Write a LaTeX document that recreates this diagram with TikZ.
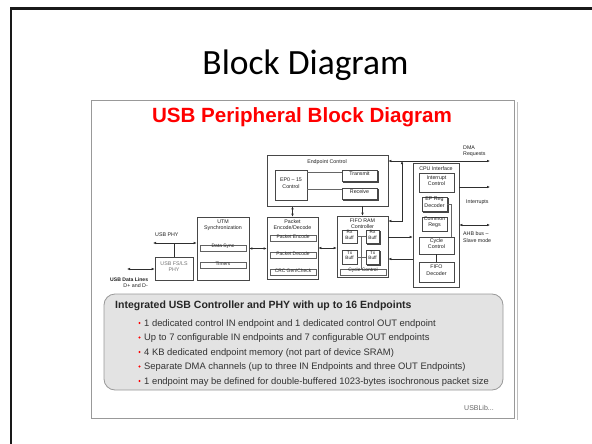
\documentclass[tikz,border=0pt]{standalone}
\usepackage{fontspec}
\setmainfont{Liberation Sans}
\newfontfamily\calfont{Carlito}
\usetikzlibrary{arrows.meta,fit,shadows}
\begin{document}
\begin{tikzpicture}[x=1pt,y=-1pt,
  >={Latex[length=3pt,width=2.6pt]},
  blk/.style={draw=black!72, line width=0.6pt, fill=white, inner sep=0pt},
  sbar/.style={draw=black!62, line width=0.5pt, fill=white, inner sep=0pt, font=\fontsize{4.9}{5}\selectfont, text=black!85},
  stk/.style={copy shadow={shadow xshift=1.4pt, shadow yshift=-1.4pt}},
  lbl/.style={font=\fontsize{5.3}{6.3}\selectfont, text=black!88, inner sep=0pt, align=center},
  con/.style={draw=black!82, line width=0.6pt},
]
\useasboundingbox (0,0) rectangle (592,444);
\fill[white] (0,0) rectangle (592,444);
% slide frame
\draw[line width=2.6pt, black!90] (11,448) -- (11,8.3) -- (596,8.3);
\node[font=\calfont\fontsize{35.5}{40}\selectfont, anchor=base, inner sep=0pt] (title) at (305.5,75) {Block Diagram};

% inner picture
\draw[black!25, line width=0.8pt] (517,102) -- (517,420);
\node[draw=black!40, line width=0.8pt, fill=white, fit={(91,100) (514,418)}, inner sep=0pt] (pic) {};
\node[font=\bfseries\fontsize{20.6}{24}\selectfont, text=red, anchor=base, inner sep=0pt] (ptitle) at (302,122) {USB Peripheral Block Diagram};

% UTM
\node[blk, fit={(197,217) (249,280)}] (utm) {};
\node[lbl, anchor=north] (utmt) at (223,219.5) {UTM\\Synchronization};
\node[sbar, fit={(200,245.5) (246,251)}] (dsync) {Data Sync};
\node[sbar, fit={(200,262.5) (246,268)}] (timers) {Timers};

% PHY
\node[blk, lbl, text=black!55, fit={(155,257) (193,280)}] (phy) {USB FS/LS\\PHY};
\node[lbl, anchor=base west] (phyl) at (155,236) {USB PHY};
\coordinate (phyL) at (153,243);
\draw[con,<->] (phyL) -- (utm.west |- phyL);
\draw[con] (phy.north) -- (phy.north |- phyL);
\coordinate (dl) at (127,269);
\draw[con,<->] (dl) -- (phy.west |- dl);
\node[lbl, font=\bfseries\fontsize{5.1}{6}\selectfont, anchor=base west] (dlt) at (110,281) {USB Data Lines};
\node[lbl, anchor=base east] (dlt2) at (148,287.5) {D+ and D-};

% Packet encode/decode
\node[blk, fit={(267,217) (318,279)}] (pkt) {};
\node[lbl, anchor=north] (pktt) at (292.5,219.5) {Packet\\Encode/Decode};
\node[sbar, fit={(270,235.5) (316,241)}] (penc) {Packet Encode};
\node[sbar, fit={(270,252.5) (316,258)}] (pdec) {Packet Decode};
\node[sbar, fit={(270,269.5) (316,275)}] (crc) {CRC Gen/Check};

% Endpoint control
\node[blk, fit={(267,155) (388,206)}] (epc) {};
\node[lbl, anchor=base] (epct) at (327,163) {Endpoint Control};
\node[blk, lbl, fit={(275,170) (307,200)}] (ep015) {EP0 – 15\\Control};
\node[blk, stk, lbl, fit={(342,170) (377,181)}] (tx) {Transmit};
\node[blk, stk, lbl, fit={(342,188) (377,199)}] (rx) {Receive};
\path ([yshift=-2.5pt]tx.north west) coordinate (txin);
\path ([yshift=-2pt]rx.north west) coordinate (rxin);
\draw[con, black!60] (ep015.east |- txin) -- (txin);
\draw[con, black!60] (ep015.east |- rxin) -- (rxin);

% FIFO RAM controller
\node[blk, fit={(337,216) (388,277)}] (fifo) {};
\node[lbl, anchor=north] (fifot) at (362.5,218.3) {FIFO RAM\\Controller};
\node[blk, lbl, font=\fontsize{4.7}{5.6}\selectfont, fit={(342,230) (357,243)}] (rxl) {Rx\\Buff};
\node[blk, stk, lbl, font=\fontsize{4.7}{5.6}\selectfont, fit={(366,230) (379,243)}] (rxr) {Rx\\Buff};
\node[blk, lbl, font=\fontsize{4.7}{5.6}\selectfont, fit={(342,250) (357,264)}] (txl) {Tx\\Buff};
\node[blk, stk, lbl, font=\fontsize{4.7}{5.6}\selectfont, fit={(366,250) (379,264)}] (txr) {Tx\\Buff};
\node[sbar, fit={(340,269) (386,275)}] (fcyc) {Cycle Control};
\draw[con, black!60] (rxl.east) -- (rxl.east -| rxr.west);
\draw[con, black!60] (txl.east) -- (txl.east -| txr.west);
\coordinate (fmid) at (361.5,236.5);
\draw[con, black!60] (fmid) -- (fmid |- fcyc.north);

% CPU interface
\node[blk, fit={(413,163) (459,287)}] (cpu) {};
\node[lbl, anchor=base] (cput) at (436,170) {CPU Interface};
\node[blk, lbl, fit={(419,173) (454,192)}] (intc) {Interrupt\\Control};
\node[blk, stk, lbl, fit={(422,197) (447,211)}] (epreg) {EP Reg\\Decoder};
\node[blk, lbl, fit={(422,217) (447,231)}] (cregs) {Common\\Regs};
\node[blk, lbl, fit={(419,237) (454,254)}] (ccyc) {Cycle\\Control};
\node[blk, lbl, fit={(419,262) (454,282)}] (fdec) {FIFO\\Decoder};
\draw[con] (ccyc.south) -- (fdec.north);
\coordinate (cyctap) at (451,237);
\draw[con, black!60] (epreg.east) -| (cyctap);

% connectors
\draw[con,<->] (utm.east) -- (utm.east -| pkt.west);
\draw[con,<->] (pkt.east) -- (pkt.east -| fifo.west);
\draw[con,<->] (epc.south -| pkt.north) -- (pkt.north);
\draw[con,->] (epc.south -| fifo.north) -- (fifo.north);
\coordinate (dmaE) at (490,161);
\coordinate (jn) at (402,161);
\draw[con,<->] (epc.east |- dmaE) -- (dmaE);
\draw[con,<->] (fifo.east |- 0,221) -| (jn);
\draw[con,->] (fifo.east |- 0,237) -- (cpu.west |- 0,237);
\draw[con,<-] (fifo.east |- 0,259) -- (cpu.west |- 0,259);
\coordinate (intE) at (490,187);
\coordinate (ahbE) at (490,225);
\draw[con,->] (cpu.east |- intE) -- (intE);
\draw[con,<->] (cpu.east |- ahbE) -- (ahbE);
\node[lbl, align=left, anchor=base west, font=\fontsize{5.3}{6.8}\selectfont] (dmat) at (463,155.8) {DMA\\Requests};
\node[lbl, anchor=base west] (intt) at (466,203) {Interrupts};
\node[lbl, align=left, anchor=base west, font=\fontsize{5.3}{6.8}\selectfont] (ahbt) at (463,242.5) {AHB bus –\\Slave mode};

% feature box
\node[draw=black!40, line width=0.8pt, fill=black!11, rounded corners=11pt, fit={(104,294) (503,390)}, inner sep=0pt] (feat) {};
\node[font=\bfseries\fontsize{10.5}{12}\selectfont, text=black!85, anchor=base west, inner sep=0pt] (ft) at (115,308) {Integrated USB Controller and PHY with up to 16 Endpoints};
\foreach \t [count=\i] in {
  1 dedicated control IN endpoint and 1 dedicated control OUT endpoint,
  Up to 7 configurable IN endpoints and 7 configurable OUT endpoints,
  4 KB dedicated endpoint memory (not part of device SRAM),
  Separate DMA channels (up to three IN Endpoints and three OUT Endpoints),
  1 endpoint may be defined for double-buffered 1023-bytes isochronous packet size}{
  \node[font=\fontsize{9.4}{11}\selectfont, text=black!80, anchor=base west, inner sep=0pt] (b\i) at (144,{311.5+14.5*\i}) {\t};
  \fill[red] (139.5,{308.5+14.5*\i}) circle (1.2pt);
}
\node[font=\fontsize{7}{8}\selectfont, text=black!60, anchor=base west, inner sep=0pt] (lib) at (464,410) {USBLib...};
\end{tikzpicture}
\end{document}
